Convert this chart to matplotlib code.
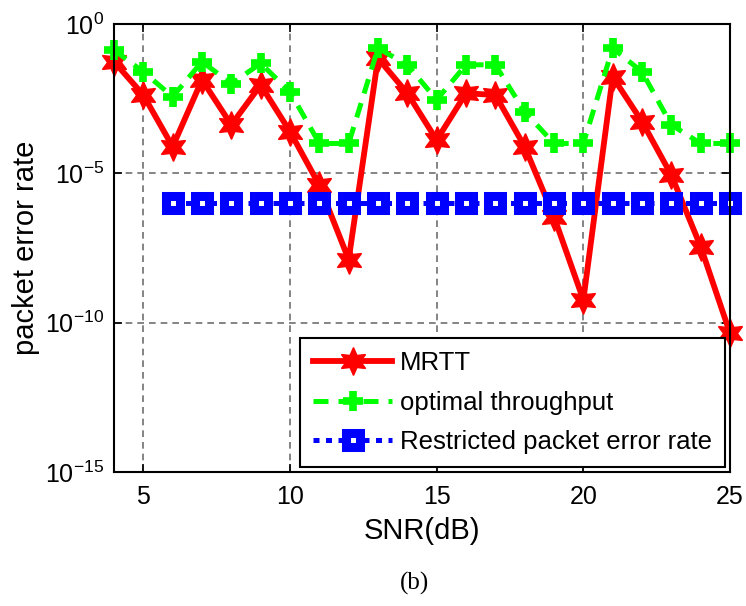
import matplotlib
matplotlib.use("Agg")
import matplotlib.pyplot as plt
from matplotlib.ticker import FixedLocator, NullLocator

# data
snr = [4, 5, 6, 7, 8, 9, 10, 11, 12, 13, 14, 15, 16, 17, 18, 19, 20, 21, 22, 23, 24, 25]
mrtt = [5.5e-2, 4.2e-3, 7.8e-5, 1.35e-2, 4.2e-4, 9.1e-3, 2.5e-4, 4e-6, 1.3e-8, 7.1e-2,
        4.8e-3, 1.3e-4, 4.8e-3, 4.2e-3, 7.8e-5, 3.5e-7, 5.8e-10, 1.7e-2, 5.4e-4, 8.7e-6,
        3.5e-8, 4.4e-11]
optimal = [1.35e-1, 2.5e-2, 3.7e-3, 5.5e-2, 1.0e-2, 4.8e-2, 5.4e-3, 1e-4, 1e-4, 1.55e-1,
           4.3e-2, 2.9e-3, 4.3e-2, 4.3e-2, 1.15e-3, 1e-4, 1e-4, 1.55e-1, 2.5e-2, 4.2e-4,
           1e-4, 1e-4]
snr_restricted = [6, 7, 8, 9, 10, 11, 12, 13, 14, 15, 16, 17, 18, 19, 20, 21, 22, 23, 24, 25]
restricted = [1e-6] * len(snr_restricted)

x_ticks = [5, 10, 15, 20, 25]
y_ticks = [1e-15, 1e-10, 1e-5, 1e0]
y_tick_labels = ["$10^{-15}$", "$10^{-10}$", "$10^{-5}$", "$10^{0}$"]

plt.rcParams['font.family'] = ['Liberation Sans', 'DejaVu Sans']
plt.rcParams['mathtext.fontset'] = 'custom'
plt.rcParams['mathtext.rm'] = 'Liberation Sans'
plt.rcParams['mathtext.default'] = 'regular'

fig = plt.figure(figsize=(7.46, 6.06), dpi=100)
ax = fig.add_axes([0.1528, 0.2211, 0.8258, 0.7393])

ax.plot(snr, mrtt, color='red', linewidth=4.2, marker=(6, 1, 0), markersize=20,
        clip_on=False, label='MRTT')
ax.plot(snr, optimal, color='#00ff00', linewidth=3.6, dashes=(3, 2), marker='+',
        markersize=14, markeredgewidth=5.5, clip_on=False, label='optimal throughput')
ax.plot(snr_restricted, restricted, color='blue', linewidth=3.6, dashes=(1.2, 1.3),
        marker='s', markersize=10, markeredgewidth=6.5, markerfacecolor='white',
        clip_on=False, label='Restricted packet error rate')

ax.set_yscale('log')
ax.set_xlim(4, 25)
ax.set_ylim(1e-15, 1e0)
ax.xaxis.set_major_locator(FixedLocator(x_ticks))
ax.yaxis.set_major_locator(FixedLocator(y_ticks))
ax.yaxis.set_minor_locator(NullLocator())
ax.set_yticklabels(y_tick_labels)

ax.tick_params(direction='in', length=6, width=1.2, top=True, right=True,
               labelsize=18)
ax.tick_params(axis='x', pad=9)
ax.tick_params(axis='y', pad=7)
for spine in ax.spines.values():
    spine.set_linewidth(1.5)

ax.grid(True, which='major', color='#707070', linestyle=(0, (4, 3)), linewidth=1.2)
ax.set_axisbelow(True)

ax.set_xlabel('SNR(dB)', fontsize=21, labelpad=6)
ax.set_ylabel('packet error rate', fontsize=21, labelpad=4)

legend = ax.legend(loc='lower right', fontsize=18.5, handlelength=3.1, fancybox=False,
                   framealpha=1, edgecolor='black', borderaxespad=0.2,
                   labelspacing=0.6, handletextpad=0.3, borderpad=0.5)
legend.get_frame().set_linewidth(1.5)

fig.text(0.555, 0.038, '(b)', fontsize=18, family='Liberation Serif',
         ha='center', va='center')

fig.savefig('out.png', dpi=100)
